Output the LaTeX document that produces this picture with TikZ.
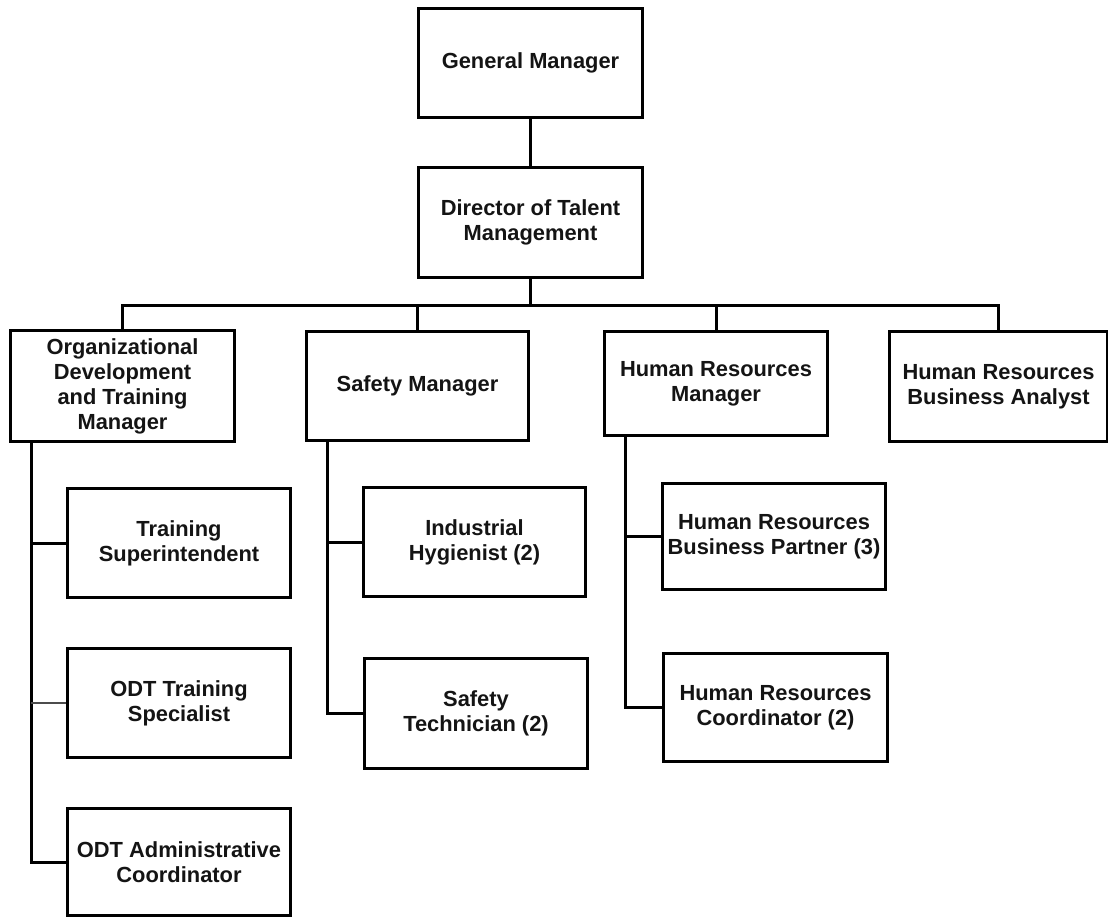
\documentclass[tikz,border=0pt]{standalone}
\usepackage{fontspec}
\setmainfont{Liberation Sans}
\usetikzlibrary{calc}

% orgbox: name, left, top, right, bottom (outer edges, px), label
\newcommand\orgbox[6]{%
  \node[orgbox, minimum width={(#4-#2-3)*0.75pt}, minimum height={(#5-#3-3)*0.75pt}]
    (#1) at ({(#2+#4)/2},{(#3+#5)/2}) {#6};}

\begin{document}
\begin{tikzpicture}[x=0.75pt, y=-0.75pt,
  orgbox/.style={draw=black, line width=2.25pt, fill=white, inner sep=0pt,
    align=center, font=\fontsize{16.4}{18.8}\selectfont\bfseries, text=black!92},
  link/.style={draw=black, line width=2.25pt},
  thinlink/.style={draw=black!70, line width=0.9pt}]

\useasboundingbox (0,0) rectangle (1108,921);
\fill[white] (0,0) rectangle (1108,921);

% top of the chart
\orgbox{gm}{417}{7}{644}{119}{General Manager}
\orgbox{dtm}{417}{166}{644}{279}{Director of Talent\\Management}

% second level
\orgbox{od}{9}{329}{236}{443}{Organizational\\Development\\and Training\\Manager}
\orgbox{sm}{305}{330}{530}{442}{Safety Manager}
\orgbox{hrm}{603}{330}{829}{437}{Human Resources\\Manager}
\orgbox{ha}{888}{330}{1109}{443}{Human Resources\\Business Analyst}

% organizational development staff
\orgbox{ts}{66}{487}{292}{599}{Training\\Superintendent}
\orgbox{ots}{66}{647}{292}{759}{ODT Training\\Specialist}
\orgbox{oac}{66}{807}{292}{917}{ODT Administrative\\Coordinator}

% safety staff
\orgbox{ih}{362}{486}{587}{598}{Industrial\\Hygienist (2)}
\orgbox{st}{363}{657}{589}{770}{Safety\\Technician (2)}

% human resources staff
\orgbox{hrbp}{661}{482}{887}{591}{Human Resources\\Business Partner (3)}
\orgbox{hrc}{662}{652}{889}{763}{Human Resources\\Coordinator (2)}

% reporting lines
\coordinate (bus) at (0,305);
\draw[link] (gm.south) -- (dtm.north);
\draw[link] (dtm.south) -- (dtm.south |- bus);
\draw[link, line join=miter] (od.north) -- (od.north |- bus) -- (ha.north |- bus) -- (ha.north);
\draw[link] (sm.north |- bus) -- (sm.north);
\draw[link] (hrm.north |- bus) -- (hrm.north);

% side spines
\coordinate (odsp) at ($(od.south west)+(22,0)$);
\coordinate (smsp) at ($(sm.south west)+(22,0)$);
\coordinate (hrsp) at ($(hrm.south west)+(22,0)$);

\draw[link, line join=miter] (odsp) |- (oac.west);
\draw[link] (odsp |- ts.west) -- (ts.west);
\draw[thinlink] (odsp |- ots.west) -- (ots.west);

\draw[link, line join=miter] (smsp) |- (st.west);
\draw[link] (smsp |- ih.west) -- (ih.west);

\draw[link, line join=miter] (hrsp) |- (hrc.west);
\draw[link] (hrsp |- hrbp.west) -- (hrbp.west);
\end{tikzpicture}
\end{document}
